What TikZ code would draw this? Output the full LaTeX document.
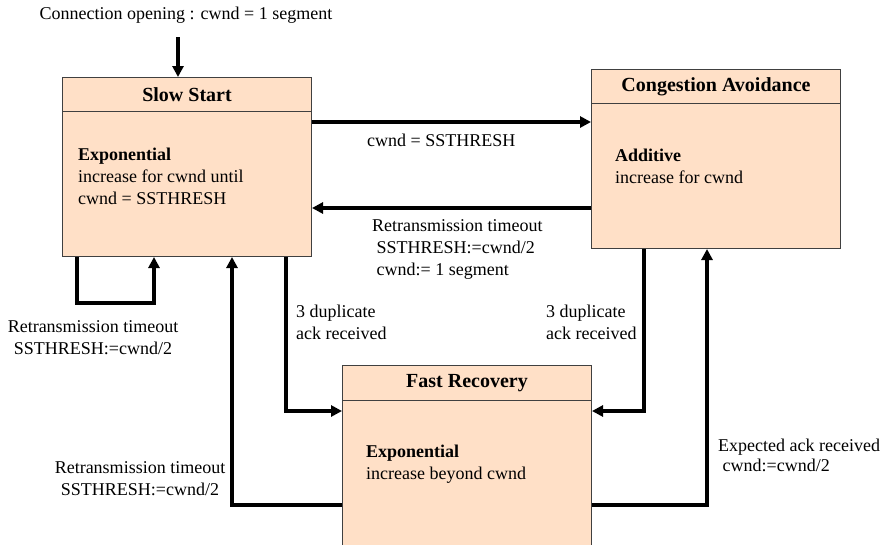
\documentclass[tikz,border=0pt]{standalone}
\usepackage{fontspec}
\setmainfont{Liberation Serif}
\usetikzlibrary{arrows.meta,positioning}
\definecolor{peach}{RGB}{255,224,199}
\tikzset{
    %Define standard arrow tip
    >={Triangle[length=11pt,width=11pt]},
    %Define style for state boxes
    statebox/.style={
           rectangle,
           draw=black!75, line width=1pt,
           fill=peach,
           minimum width=249pt,
           minimum height=179pt,
           anchor=north west,
           inner sep=0pt},
    statehead/.style={
           rectangle,
           draw=black!75, line width=1pt,
           minimum width=249pt,
           minimum height=34pt,
           anchor=north,
           font=\fontsize{20}{24}\selectfont\bfseries},
    statetext/.style={
           anchor=north west,
           inner sep=0pt,
           align=left,
           font=\fontsize{18}{22}\selectfont},
    % Define label style
    lbl/.style={
           inner sep=0pt,
           align=left,
           font=\fontsize{18}{22}\selectfont},
    % Define arrow style
    pil/.style={
           ->,
           line width=3.3pt}
}

\begin{document}
\begin{tikzpicture}[x=1pt,y=-1pt]
\useasboundingbox (0,0) rectangle (882,544);
\clip (0,0) rectangle (882,544);

 %nodes
\node[statebox](ss) at (62,77) {};
\node[statebox](ca) at (591,69) {};
\node[statebox, minimum height=200pt](fr) at (342,365) {};
\node[statehead](sshead) at (ss.north) {Slow Start};
\node[statehead](cahead) at (ca.north) {Congestion Avoidance};
\node[statehead, minimum height=35pt](frhead) at (fr.north) {Fast Recovery};

\node[statetext](ssbody) at (78,148) {\textbf{Exponential}\\increase for cwnd until\\cwnd = SSTHRESH};
\node[statetext](cabody) at (615,149) {\textbf{Additive}\\increase for cwnd};
\node[statetext](frbody) at (366,445) {\textbf{Exponential}\\increase beyond cwnd};

 %anchor points
\coordinate (start) at (178,37);
\coordinate (up) at ([yshift=-45pt]ss.north east);
\coordinate (down) at ([yshift=-139pt]ca.north west);
\coordinate (loopa) at ([xshift=15pt]ss.south west);
\coordinate (loopb) at ([xshift=92pt]ss.south west);
\coordinate (back) at ([xshift=170pt]ss.south west);
\coordinate (dupa) at ([xshift=224pt]ss.south west);
\coordinate (dupb) at ([xshift=53pt]ca.south west);
\coordinate (expack) at ([xshift=116pt]ca.south west);
\coordinate (frin) at ([yshift=-46pt]fr.north west);
\coordinate (frout) at ([yshift=-140pt]fr.north west);

 %arrows
\draw[pil] (start) -- (start |- ss.north);
\draw[pil] (up) -- (up -| ca.west);
\draw[pil] (down) -- (down -| ss.east);
\draw[pil] (loopa) -- ++(0,46) -| (loopb);
\draw[pil] (frout) -| (back);
\draw[pil] (dupa) |- (frin);
\draw[pil] (dupb) |- (frin -| fr.east);
\draw[pil] (frout -| fr.east) -| (expack);

 %labels
\node[lbl](open) at (186,15) {Connection opening : cwnd = 1 segment};
\node[lbl, anchor=west](lthresh) at (367,140) {cwnd = SSTHRESH};
\node[lbl, anchor=north west](ltimeout) at (372,219) {Retransmission timeout\\~SSTHRESH:=cwnd/2\\~cwnd:= 1 segment};
\node[lbl, align=center](lloop) at (93,338) {Retransmission timeout\\SSTHRESH:=cwnd/2};
\node[lbl, align=center](lback) at (140,479) {Retransmission timeout\\SSTHRESH:=cwnd/2};
\node[lbl, anchor=north west](ldupa) at (296,305) {3 duplicate\\ack received};
\node[lbl, anchor=north west](ldupb) at (546,305) {3 duplicate\\ack received};
\node[lbl, anchor=north west, font=\fontsize{18}{20}\selectfont](lexp) at (718,439) {Expected ack received\\~cwnd:=cwnd/2};
\end{tikzpicture}
\end{document}
